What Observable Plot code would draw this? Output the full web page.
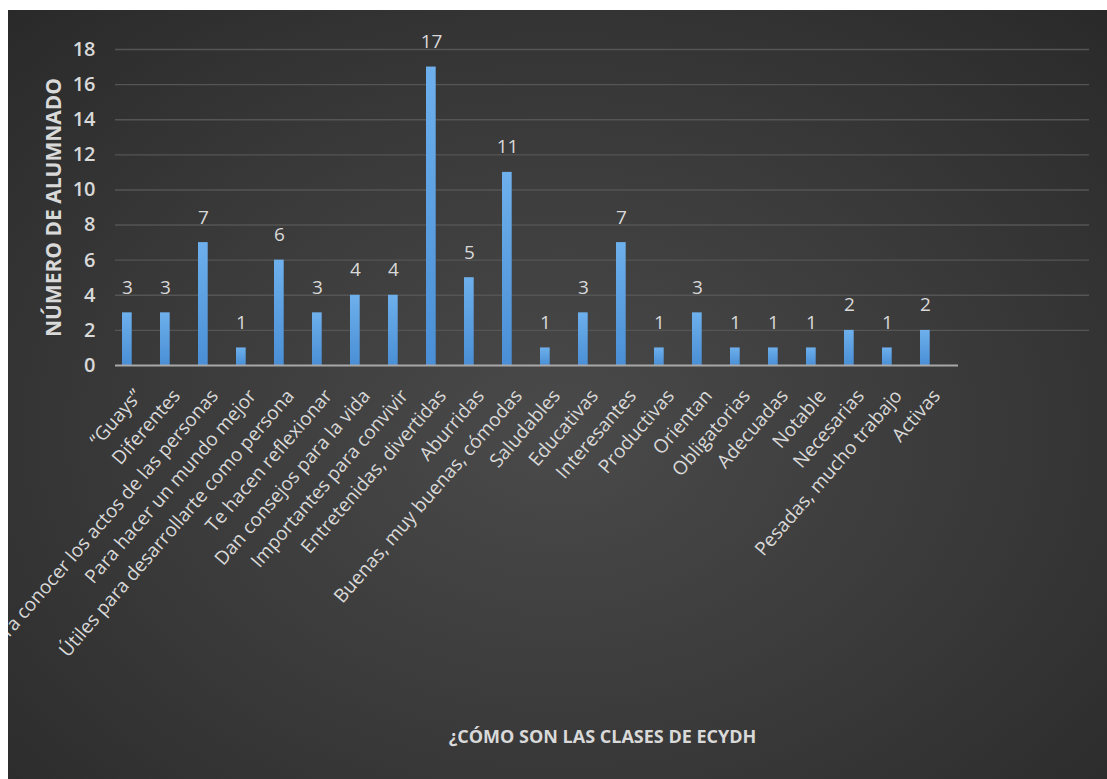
<!DOCTYPE html>
<html>
<head>
<meta charset="utf-8">
<script src="https://cdn.jsdelivr.net/npm/d3@7"></script>
<script src="https://cdn.jsdelivr.net/npm/@observablehq/plot@0.6"></script>
<style>
  html, body { margin: 0; padding: 0; background: #ffffff; }
  #chart {
    position: absolute; left: 8px; top: 10px; width: 1099px; height: 769px;
    overflow: hidden;
    background: radial-gradient(ellipse 75% 80% at 50% 55%, #4a4a4a 0%, #3a3a3a 50%, #282828 100%);
  }
  #chart svg { overflow: visible; background: transparent; }
</style>
</head>
<body>
<div id="chart"></div>
<script>
const categories = [
  "“Guays”", "Diferentes", "Para conocer los actos de las personas", "Para hacer un mundo mejor",
  "Útiles para desarrollarte como persona", "Te hacen reflexionar", "Dan consejos para la vida",
  "Importantes para convivir", "Entretenidas, divertidas", "Aburridas", "Buenas, muy buenas, cómodas",
  "Saludables", "Educativas", "Interesantes", "Productivas", "Orientan", "Obligatorias",
  "Adecuadas", "Notable", "Necesarias", "Pesadas, mucho trabajo", "Activas"
];
const values = [3, 3, 7, 1, 6, 3, 4, 4, 17, 5, 11, 1, 3, 7, 1, 3, 1, 1, 1, 2, 1, 2];
const yTicks = [0, 2, 4, 6, 8, 10, 12, 14, 16, 18];
const yTitle = "NÚMERO DE ALUMNADO";
const xTitle = "¿CÓMO SON LAS CLASES DE ECYDH";

const data = categories.map((c, i) => ({cat: c, val: values[i]}));
const txt = "#d9d9d9";

const chart = Plot.plot({
  width: 1099,
  height: 769,
  marginLeft: 107,
  marginRight: 18,
  marginTop: 39,
  marginBottom: 414,
  style: {fontFamily: "'Open Sans', sans-serif", color: txt, background: "transparent"},
  x: {type: "band", domain: categories, range: [107, 950], padding: 0},
  y: {domain: [0, 18]},
  marks: [
    Plot.ruleY(yTicks.filter(d => d > 0), {stroke: "#555555", strokeWidth: 1.4}),
    Plot.barY(data, {x: "cat", y: "val", fill: "url(#barGrad)", insetLeft: 3, insetRight: 25.3}),
    Plot.ruleY([0], {stroke: "#a8a8a8", strokeWidth: 2, insetRight: 131}),
    Plot.text(data, {x: "cat", y: "val", text: d => String(d.val), dx: -11, dy: -19,
      lineAnchor: "bottom", fill: txt, fontSize: 19}),
    Plot.axisY({ticks: yTicks, tickSize: 0, tickPadding: 20, fontSize: 20, fontWeight: 600,
      fill: txt, label: null}),
    Plot.axisX({tickRotate: -49, tickSize: 0, tickPadding: 27, fontSize: 19, fill: txt, label: null}),
    Plot.text([yTitle], {text: d => d, frameAnchor: "left", dx: -61, rotate: -90,
      textAnchor: "middle", lineAnchor: "middle", fontWeight: "bold", fontSize: 21, fill: txt}),
    Plot.text([xTitle], {text: d => d, frameAnchor: "bottom", dy: 372, lineAnchor: "middle",
      fontWeight: "bold", fontSize: 18, fill: txt})
  ]
});

const ns = "http://www.w3.org/2000/svg";
const defs = document.createElementNS(ns, "defs");
defs.innerHTML = `<linearGradient id="barGrad" x1="0" y1="0" x2="0" y2="1">
  <stop offset="0%" stop-color="#6eb0ec"/>
  <stop offset="100%" stop-color="#4a8fd6"/>
</linearGradient>`;
chart.insertBefore(defs, chart.firstChild);
document.getElementById("chart").appendChild(chart);
</script>
</body>
</html>
